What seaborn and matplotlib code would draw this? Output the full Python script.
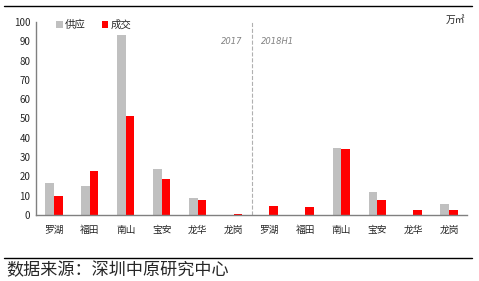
import pandas as pd
import matplotlib
matplotlib.use("Agg")
import matplotlib.pyplot as plt
from matplotlib.lines import Line2D
from matplotlib.ticker import FixedLocator
import seaborn as sns

districts = ["罗湖", "福田", "南山", "宝安", "龙华", "龙岗"]
periods = ["2017", "2018H1"]
supply_2017 = [16.8, 15.2, 93.5, 23.9, 8.9, 0.0]
deal_2017 = [10.0, 22.9, 51.2, 18.7, 7.9, 0.7]
supply_2018 = [0.0, 0.0, 34.8, 12.0, 0.0, 5.8]
deal_2018 = [4.8, 4.3, 34.2, 7.9, 2.7, 2.7]

sns.set_style("white")
plt.rcParams['font.family'] = ['Noto Sans CJK SC', 'DejaVu Sans']

# one row per bar; slot keeps the two years apart on the x axis
rows = []
for p, sup, deal in [(periods[0], supply_2017, deal_2017), (periods[1], supply_2018, deal_2018)]:
    for d, s, v in zip(districts, sup, deal):
        rows.append({"slot": p + "-" + d, "type": "供应", "value": s})
        rows.append({"slot": p + "-" + d, "type": "成交", "value": v})
df = pd.DataFrame(rows)

fig = plt.figure(figsize=(4.79, 2.81), dpi=100)
ax = fig.add_axes([36 / 479, 1 - 215 / 281, (467 - 36) / 479, (215 - 22) / 281])

sns.barplot(data=df, x="slot", y="value", hue="type",
            palette={"供应": "#c0c0c0", "成交": "#ff0000"},
            width=0.48, saturation=1, linewidth=0, edgecolor="none",
            ax=ax, legend=True)

ax.set_ylim(0, 100)
ax.set_xlim(-0.5, 11.5)
ax.set_yticks(range(0, 101, 10))
ax.set_xticks(range(12))
ax.set_xticklabels(districts * 2, fontsize=7)
ax.tick_params(axis="x", which="major", length=0, pad=7)
ax.tick_params(axis="y", labelsize=7, direction="in", length=4, color="#808080", pad=4)
ax.xaxis.set_minor_locator(FixedLocator([1.5, 3.5, 5.5, 7.5, 9.5, 11.5]))
ax.tick_params(axis="x", which="minor", direction="in", length=3, color="#808080")
ax.set_xlabel("")
ax.set_ylabel("")
for side in ["top", "right"]:
    ax.spines[side].set_visible(False)
for side in ["left", "bottom"]:
    ax.spines[side].set_color("#808080")
    ax.spines[side].set_linewidth(1)

ax.axvline(5.5, color="#b0b0b0", linestyle="--", linewidth=0.8)
ax.text(5.25, 90, periods[0], fontsize=6, style="italic", color="#808080",
        ha="right", va="center", family="DejaVu Sans")
ax.text(5.75, 90, periods[1], fontsize=6, style="italic", color="#808080",
        ha="left", va="center", family="DejaVu Sans")

leg = ax.legend(loc="upper left", bbox_to_anchor=(0.047, 1.012), ncol=2, frameon=False,
                fontsize=7.5, handlelength=0.6, handleheight=0.6, handletextpad=0.2,
                columnspacing=1.6, borderaxespad=0, borderpad=0)

fig.text(446 / 479, 1 - 20 / 281, "万㎡", fontsize=7, ha="left", va="center")

fig.add_artist(Line2D([4 / 479, 472 / 479], [1 - 6 / 281, 1 - 6 / 281], color="black", linewidth=1))
fig.add_artist(Line2D([4 / 479, 472 / 479], [1 - 258 / 281, 1 - 258 / 281], color="black", linewidth=1))
fig.text(6 / 479, 1 - 270 / 281, "数据来源：深圳中原研究中心", fontsize=12.3, ha="left", va="center")

fig.savefig("out.png", dpi=100)
